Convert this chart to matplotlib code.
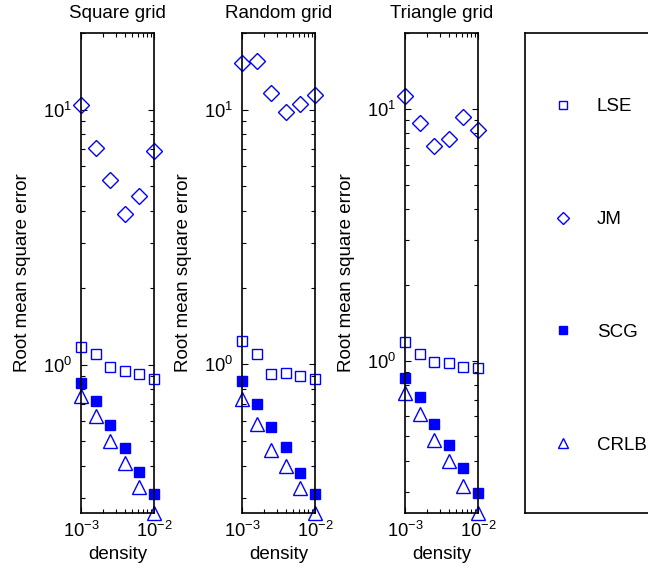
import numpy as np
import matplotlib
matplotlib.use("Agg")
import matplotlib.pyplot as plt
from matplotlib.ticker import NullFormatter

plt.rcParams['font.family'] = ['Liberation Sans', 'DejaVu Sans']
plt.rcParams['mathtext.default'] = 'regular'

# density values (x) shared by all panels
density = [1e-3, 1.585e-3, 2.512e-3, 3.981e-3, 6.310e-3, 1e-2]

titles = ['Square grid', 'Random grid', 'Triangle grid']

# Square grid
lse_sq = [1.17, 1.10, 0.98, 0.945, 0.92, 0.88]
jm_sq = [10.4, 7.1, 5.3, 3.9, 4.6, 6.9]
scg_sq = [0.85, 0.72, 0.58, 0.47, 0.38, 0.31]
crlb_sq = [0.755, 0.63, 0.50, 0.41, 0.33, 0.262]

# Random grid
lse_rnd = [1.24, 1.10, 0.92, 0.925, 0.90, 0.875]
jm_rnd = [15.3, 15.5, 11.6, 9.8, 10.5, 11.4]
scg_rnd = [0.86, 0.70, 0.57, 0.475, 0.375, 0.31]
crlb_rnd = [0.73, 0.585, 0.46, 0.40, 0.327, 0.261]

# Triangle grid
lse_tri = [1.19, 1.06, 0.99, 0.975, 0.945, 0.935]
jm_tri = [11.2, 8.8, 7.1, 7.6, 9.3, 8.2]
scg_tri = [0.85, 0.715, 0.56, 0.46, 0.375, 0.298]
crlb_tri = [0.745, 0.615, 0.485, 0.40, 0.318, 0.248]

panels = [
    (lse_sq, jm_sq, scg_sq, crlb_sq),
    (lse_rnd, jm_rnd, scg_rnd, crlb_rnd),
    (lse_tri, jm_tri, scg_tri, crlb_tri),
]

W, H = 648, 572
fig = plt.figure(figsize=(W / 100, H / 100), dpi=100)

bot = (H - 513) / H
hgt = 480 / H
lefts = [81, 242, 405]
blue = (0, 0, 1)

fs = 13.5
handles = None
for i, (lse, jm, scg, crlb) in enumerate(panels):
    ax = fig.add_axes([lefts[i] / W, bot, 73 / W, hgt])
    h1, = ax.plot(density, lse, ls='none', marker='s', ms=7, mfc='none',
                  mec=blue, mew=1, clip_on=False, label='LSE')
    h2, = ax.plot(density, jm, ls='none', marker='D', ms=8, mfc='none',
                  mec=blue, mew=1, clip_on=False, label='JM')
    h3, = ax.plot(density, scg, ls='none', marker='s', ms=7.5, mfc=blue,
                  mec=blue, mew=1, clip_on=False, label='SCG')
    h4, = ax.plot(density, crlb, ls='none', marker='^', ms=9.5, mfc='none',
                  mec=blue, mew=1, clip_on=False, label='CRLB')
    handles = [h1, h2, h3, h4]
    ax.set_xscale('log')
    ax.set_yscale('log')
    ax.set_xlim(1e-3, 1e-2)
    ax.set_ylim(min(crlb), 20)
    ax.xaxis.set_minor_formatter(NullFormatter())
    ax.yaxis.set_minor_formatter(NullFormatter())
    ax.set_title(titles[i], fontsize=fs, pad=11)
    ax.set_xlabel('density', fontsize=fs, labelpad=3)
    ax.set_ylabel('Root mean square error', fontsize=fs, labelpad=9)
    ax.tick_params(which='both', direction='in', top=True, right=True,
                   labelsize=13.2, width=0.8)
    ax.tick_params(which='major', length=4, pad=6)
    ax.tick_params(which='minor', length=3)
    for s in ax.spines.values():
        s.set_linewidth(1.2)

# legend box on the right, running past the figure edge
ax_leg = fig.add_axes([525 / W, bot, 0.3, hgt])
ax_leg.set_xticks([])
ax_leg.set_yticks([])
for s in ax_leg.spines.values():
    s.set_linewidth(1.2)
ax_leg.legend(handles=handles, loc='center left',
              bbox_to_anchor=(537 / W, bot + (hgt * H - 6) / 2 / H),
              bbox_transform=fig.transFigure, frameon=False,
              numpoints=1, markerscale=0.8, fontsize=fs,
              labelspacing=5.1, handlelength=2.0, handletextpad=0.8,
              borderaxespad=0, borderpad=0.4)

fig.savefig('out.png', dpi=100)
